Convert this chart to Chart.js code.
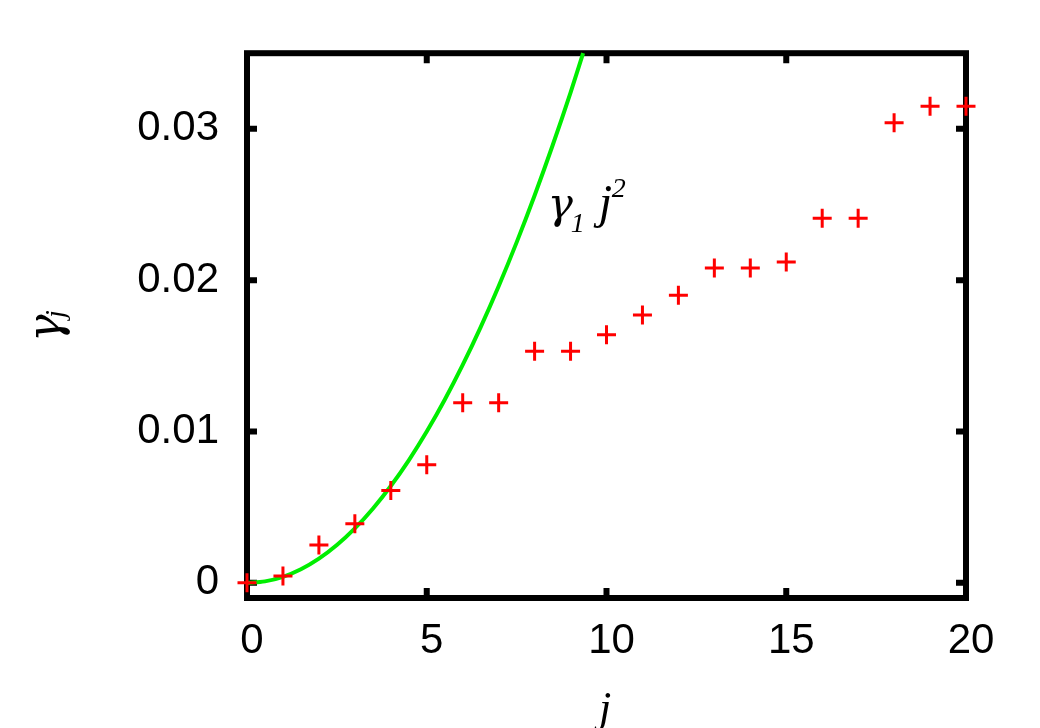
<!DOCTYPE html>
<html>
<head>
<meta charset="utf-8">
<script src="https://cdn.jsdelivr.net/npm/chart.js@4/dist/chart.umd.min.js"></script>
<style>
  body { margin: 0; background: #fff; }
  canvas { display: block; }
</style>
</head>
<body>
<canvas id="chart" width="1040" height="728"></canvas>
<script>
// measured points gamma_j
const jValues = [0, 1, 2, 3, 4, 5, 6, 7, 8, 9, 10, 11, 12, 13, 14, 15, 16, 17, 18, 19, 20];
const gammaValues = [0, 0.00045, 0.0025, 0.0039, 0.0061, 0.0078, 0.0119, 0.0119, 0.0153, 0.0153,
    0.0164, 0.0177, 0.0190, 0.0208, 0.0208, 0.0212, 0.0241, 0.0241, 0.0304, 0.0315, 0.0315];

// green curve gamma_1 j^2
const curveJ = [0, 0.5, 1, 1.5, 2, 2.5, 3, 3.5, 4, 4.5, 5, 5.5, 6, 6.5, 7, 7.5, 8, 8.5, 9, 9.35];
const curveGamma = [0, 0.0001, 0.0004, 0.0009, 0.0016, 0.0025, 0.0036, 0.0049, 0.0064, 0.0081,
    0.0100, 0.0121, 0.0144, 0.0169, 0.0196, 0.0225, 0.0256, 0.0289, 0.0324, 0.0350];

const xTicks = [0, 5, 10, 15, 20];
const yTicks = [0, 0.01, 0.02, 0.03];

const tickFont = { family: 'Liberation Sans', size: 42 };

const framePlugin = {
    id: 'frame',
    beforeDatasetsDraw(chart) {
        const { ctx, chartArea: a, scales } = chart;
        ctx.save();
        ctx.strokeStyle = '#000';
        ctx.lineWidth = 6;
        ctx.strokeRect(a.left, a.top, a.right - a.left, a.bottom - a.top);
        // inward ticks on all four sides
        ctx.beginPath();
        xTicks.forEach(v => {
            const px = scales.x.getPixelForValue(v);
            ctx.moveTo(px, a.bottom); ctx.lineTo(px, a.bottom - 10);
            ctx.moveTo(px, a.top); ctx.lineTo(px, a.top + 10);
        });
        yTicks.forEach(v => {
            const py = scales.y.getPixelForValue(v);
            ctx.moveTo(a.left, py); ctx.lineTo(a.left + 10, py);
            ctx.moveTo(a.right, py); ctx.lineTo(a.right - 10, py);
        });
        ctx.stroke();
        ctx.restore();
    },
    afterDraw(chart) {
        const { ctx, scales } = chart;
        ctx.save();
        ctx.fillStyle = '#000';
        ctx.textBaseline = 'alphabetic';
        ctx.textAlign = 'left';

        // curve label  gamma_1 j^2
        const lx = scales.x.getPixelForValue(8.42);
        const ly = scales.y.getPixelForValue(0.0241);
        ctx.font = 'italic 42px "DejaVu Serif"';
        ctx.fillText('γ', lx - 2, ly);
        ctx.font = 'italic 48px "Liberation Serif"';
        ctx.fillText('j', lx + 49, ly);
        ctx.font = 'italic 28px "Liberation Serif"';
        ctx.fillText('1', lx + 21, ly + 14);
        ctx.fillText('2', lx + 62, ly - 21);

        // x title
        ctx.font = 'italic 44px "Liberation Serif"';
        ctx.textAlign = 'center';
        ctx.fillText('j', 605, 722);

        // y title, rotated
        ctx.translate(60, 342);
        ctx.rotate(-Math.PI / 2);
        ctx.textAlign = 'left';
        ctx.font = 'italic 46px "DejaVu Serif"';
        ctx.fillText('γ', 0, 0);
        ctx.font = 'italic 28px "Liberation Serif"';
        ctx.fillText('j', 24, 4);
        ctx.restore();
    }
};

new Chart(document.getElementById('chart'), {
    type: 'scatter',
    data: {
        datasets: [
            {
                label: 'gamma_j',
                data: jValues.map((j, i) => ({ x: j, y: gammaValues[i] })),
                pointStyle: 'cross',
                pointRadius: 9.5,
                pointHoverRadius: 9.5,
                borderColor: '#ff0000',
                backgroundColor: '#ff0000',
                pointBorderWidth: 3,
                showLine: false,
                clip: false
            },
            {
                label: 'gamma_1 j^2',
                data: curveJ.map((j, i) => ({ x: j, y: curveGamma[i] })),
                showLine: true,
                pointRadius: 0,
                borderColor: '#00ee00',
                borderWidth: 4,
                cubicInterpolationMode: 'monotone',
                clip: false
            }
        ]
    },
    options: {
        responsive: false,
        animation: false,
        devicePixelRatio: 1,
        layout: { padding: { top: 52, right: 74, left: 0, bottom: 0 } },
        plugins: {
            legend: { display: false },
            tooltip: { enabled: false }
        },
        scales: {
            x: {
                type: 'linear',
                min: 0,
                max: 20,
                grid: { display: false, drawTicks: false },
                border: { display: false },
                afterBuildTicks: s => { s.ticks = xTicks.map(v => ({ value: v })); },
                afterFit: s => { s.height = 130; },
                ticks: {
                    font: tickFont,
                    color: '#000',
                    padding: 18,
                    labelOffset: 5,
                    maxRotation: 0,
                    autoSkip: false,
                    callback: v => String(v)
                }
            },
            y: {
                type: 'linear',
                min: -0.001,
                max: 0.035,
                grid: { display: false, drawTicks: false },
                border: { display: false },
                afterBuildTicks: s => { s.ticks = yTicks.map(v => ({ value: v })); },
                afterFit: s => { s.width = 247; },
                ticks: {
                    font: tickFont,
                    color: '#000',
                    padding: 28,
                    autoSkip: false,
                    callback: v => v === 0 ? '0' : v.toFixed(2)
                }
            }
        }
    },
    plugins: [framePlugin]
});
</script>
</body>
</html>
